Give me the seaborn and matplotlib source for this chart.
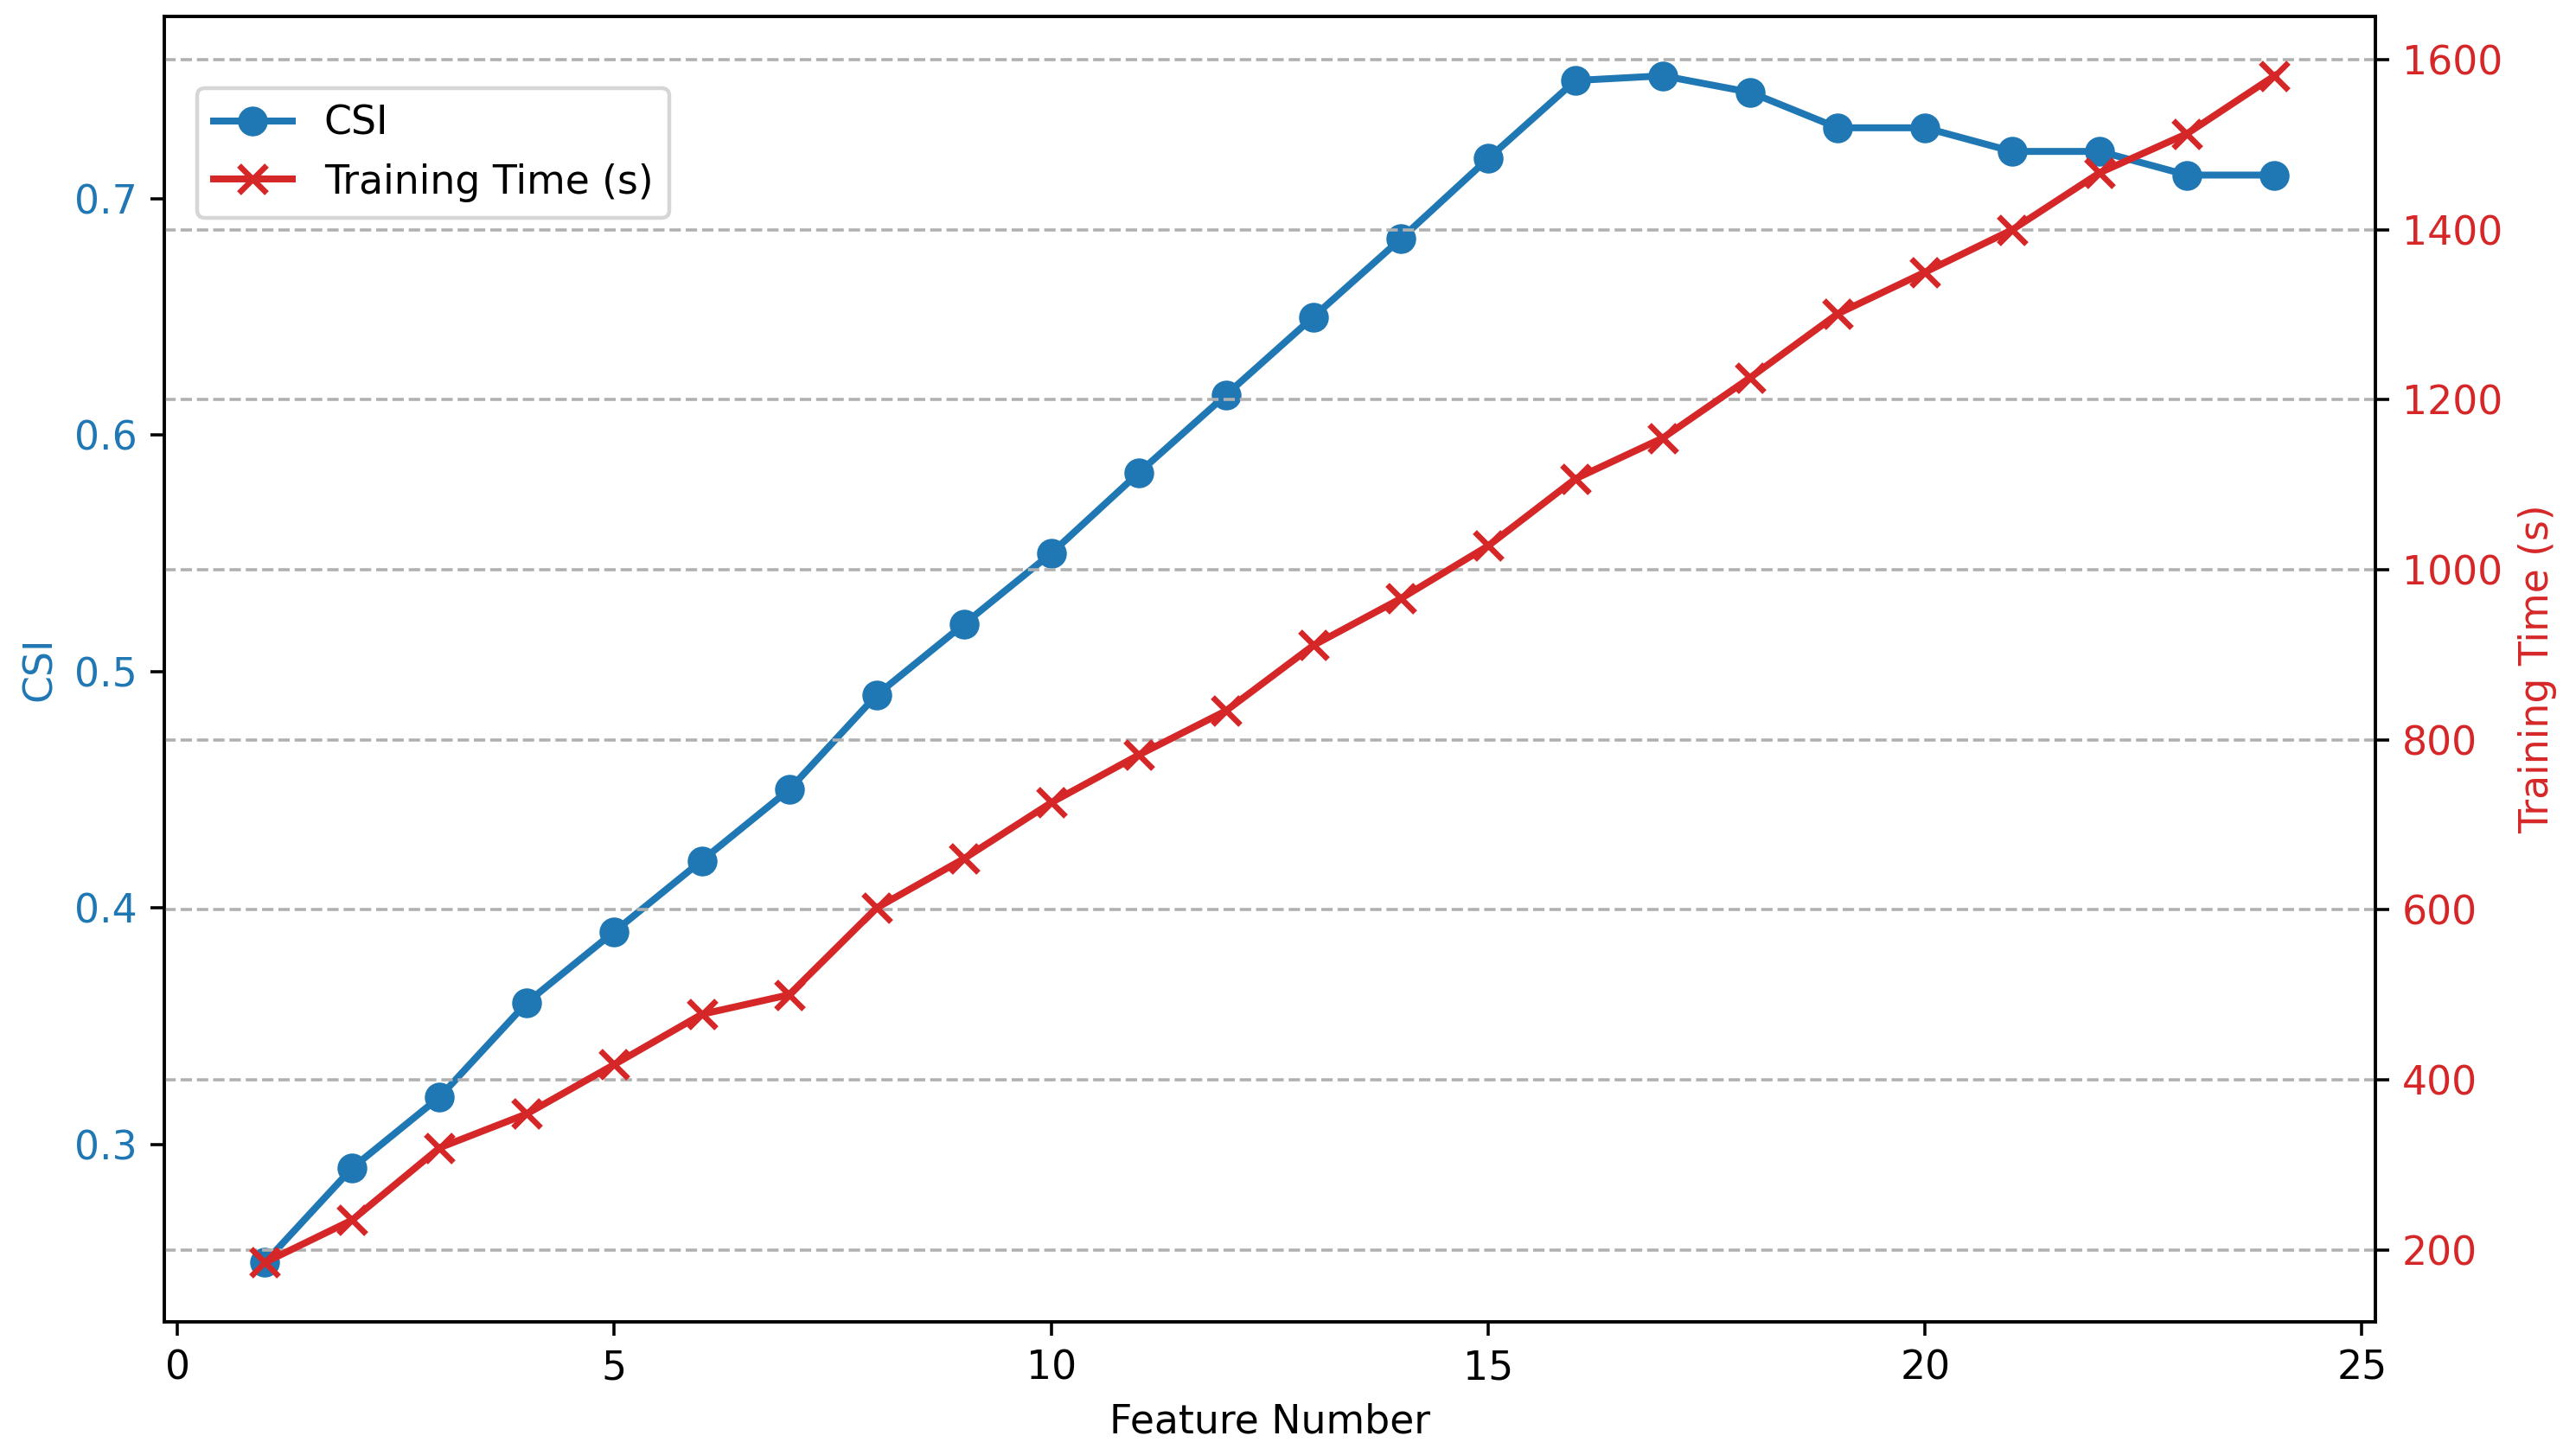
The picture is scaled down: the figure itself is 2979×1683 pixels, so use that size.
import numpy as np
import pandas as pd
import matplotlib
matplotlib.use("Agg")
import matplotlib.pyplot as plt
import seaborn as sns

# values
feature_number = list(range(1, 25))
csi = [0.25, 0.29, 0.32, 0.36, 0.39, 0.42, 0.45, 0.49, 0.52, 0.55, 0.584, 0.617,
       0.65, 0.683, 0.717, 0.75, 0.752, 0.745, 0.73, 0.73, 0.72, 0.72, 0.71, 0.71]
training_time = [185, 235, 320, 360, 418, 477, 500, 602, 660, 726, 782, 834,
                 911, 966, 1028, 1107, 1155, 1226, 1301, 1350, 1400, 1467, 1513, 1581]

df = pd.DataFrame({"feature": feature_number, "csi": csi, "time": training_time})

plt.rcParams["font.size"] = 10.3
blue = "#1f77b4"
red = "#d62728"

fig, ax = plt.subplots(figsize=(2979 / 320, 1683 / 320), dpi=320)
fig.subplots_adjust(left=0.0638, right=0.922, bottom=0.0915, top=0.9887)

sns.lineplot(data=df, x="feature", y="csi", ax=ax, color=blue, marker="o",
             markersize=7, markeredgecolor=blue, linewidth=1.8, label="CSI", legend=False)
ax.set_xlabel("Feature Number")
ax.set_ylabel("CSI", color=blue)
ax.tick_params(axis="y", labelcolor=blue)

ax2 = ax.twinx()
sns.lineplot(data=df, x="feature", y="time", ax=ax2, color=red, marker="x",
             markersize=7, markeredgecolor=red, markeredgewidth=1.5, linewidth=1.8,
             label="Training Time (s)", legend=False)
ax2.set_ylabel("Training Time (s)", color=red)
ax2.tick_params(axis="y", labelcolor=red)
ax2.grid(True, axis="y", linestyle="--", color="#b0b0b0", linewidth=0.8)

ax.set_xticks([0, 5, 10, 15, 20, 25])

h1, l1 = ax.get_legend_handles_labels()
h2, l2 = ax2.get_legend_handles_labels()
ax2.legend(h1 + h2, l1 + l2, loc="upper left", bbox_to_anchor=(0.006, 0.96))

fig.savefig("out.png", dpi=320)
